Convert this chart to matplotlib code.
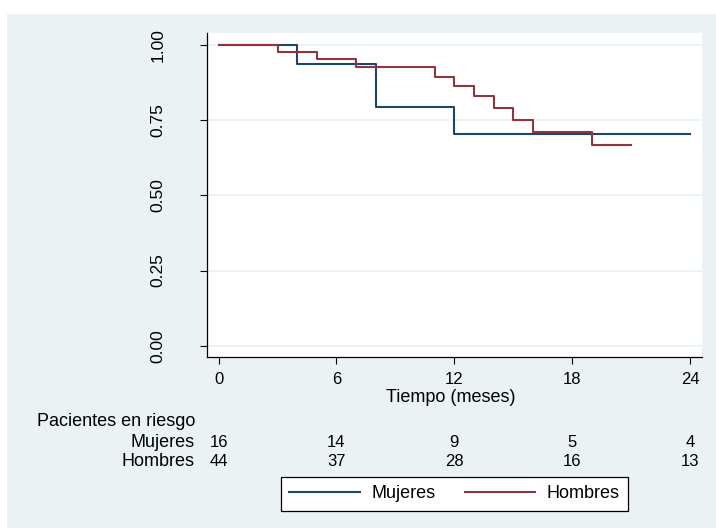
import matplotlib.pyplot as plt
from matplotlib.patches import Rectangle
from matplotlib.transforms import blended_transform_factory

plt.rcParams['font.family'] = ['Liberation Sans', 'DejaVu Sans']

# curvas de Kaplan-Meier
t_mujeres = [0, 4, 8, 12, 24]
s_mujeres = [1.0, 0.9375, 0.793, 0.705, 0.705]
t_hombres = [0, 3, 5, 7, 11, 12, 13, 14, 15, 16, 19, 21]
s_hombres = [1.0, 0.977, 0.953, 0.926, 0.895, 0.863, 0.829, 0.792, 0.752, 0.710, 0.666, 0.666]

x_ticks = [0, 6, 12, 18, 24]
y_ticks = [0, 0.25, 0.5, 0.75, 1.0]
y_labels = ['0.00', '0.25', '0.50', '0.75', '1.00']

# pacientes en riesgo
riesgo_mujeres = [16, 14, 9, 5, 4]
riesgo_hombres = [44, 37, 28, 16, 13]

W, H = 716, 528
bg = '#eaf2f3'
azul = '#1a476f'
rojo = '#90353b'


def fy(y):
    # pixel (desde arriba) -> fraccion de figura
    return 1 - y / H


fig = plt.figure(figsize=(W / 100, H / 100), dpi=100, facecolor='white')
# region del grafico (con margen blanco arriba y a la izquierda)
fig.add_artist(Rectangle((7 / W, 0), (W - 7) / W, (H - 14) / H,
                         transform=fig.transFigure, facecolor=bg,
                         edgecolor='none', zorder=-10))

ax = fig.add_axes([207 / W, fy(356.5), (702 - 207) / W, (356.5 - 33) / H])
ax.set_facecolor('white')

ax.step(t_mujeres, s_mujeres, where='post', color=azul, lw=1.5, label='Mujeres')
ax.step(t_hombres, s_hombres, where='post', color=rojo, lw=1.5, label='Hombres')

ax.set_xlim(-0.59, 24.6)
ax.set_ylim(-0.036, 1.04)
ax.set_xticks(x_ticks)
ax.set_xticklabels([str(x) for x in x_ticks], fontsize=12)
ax.set_yticks(y_ticks)
ax.set_yticklabels(y_labels, rotation=90, va='center', fontsize=12.5)
ax.tick_params(axis='y', length=5, width=0.8, pad=25)
ax.tick_params(axis='x', length=5, width=0.8, pad=6)

ax.yaxis.grid(True, color=bg, lw=1.3)
ax.set_axisbelow(True)
for s in ['top', 'right']:
    ax.spines[s].set_visible(False)
for s in ['left', 'bottom']:
    ax.spines[s].set_linewidth(0.9)

fig.text(451 / W, fy(401.7), 'Tiempo (meses)', ha='center', va='baseline', fontsize=13)

# tabla de pacientes en riesgo
fig.text(37.3 / W, fy(426), 'Pacientes en riesgo', ha='left', va='baseline', fontsize=13)
fig.text(195 / W, fy(446.7), 'Mujeres', ha='right', va='baseline', fontsize=13)
fig.text(195 / W, fy(466.3), 'Hombres', ha='right', va='baseline', fontsize=13)
trans = blended_transform_factory(ax.transData, fig.transFigure)
for x, m, h in zip(x_ticks, riesgo_mujeres, riesgo_hombres):
    ax.text(x, fy(446.7), str(m), transform=trans, ha='center', va='baseline',
            fontsize=12, clip_on=False)
    ax.text(x, fy(466.3), str(h), transform=trans, ha='center', va='baseline',
            fontsize=12, clip_on=False)

leg = fig.legend(loc='center', bbox_to_anchor=(454.5 / W, fy(494)), ncol=2,
                 fontsize=13, frameon=True, fancybox=False, handlelength=3.9,
                 handletextpad=0.65, columnspacing=1.6, borderpad=0.45)
leg.get_frame().set_edgecolor('black')
leg.get_frame().set_linewidth(0.9)
leg.get_frame().set_facecolor('white')
leg.get_frame().set_alpha(1)

fig.savefig('out.png', dpi=100, facecolor='white')
